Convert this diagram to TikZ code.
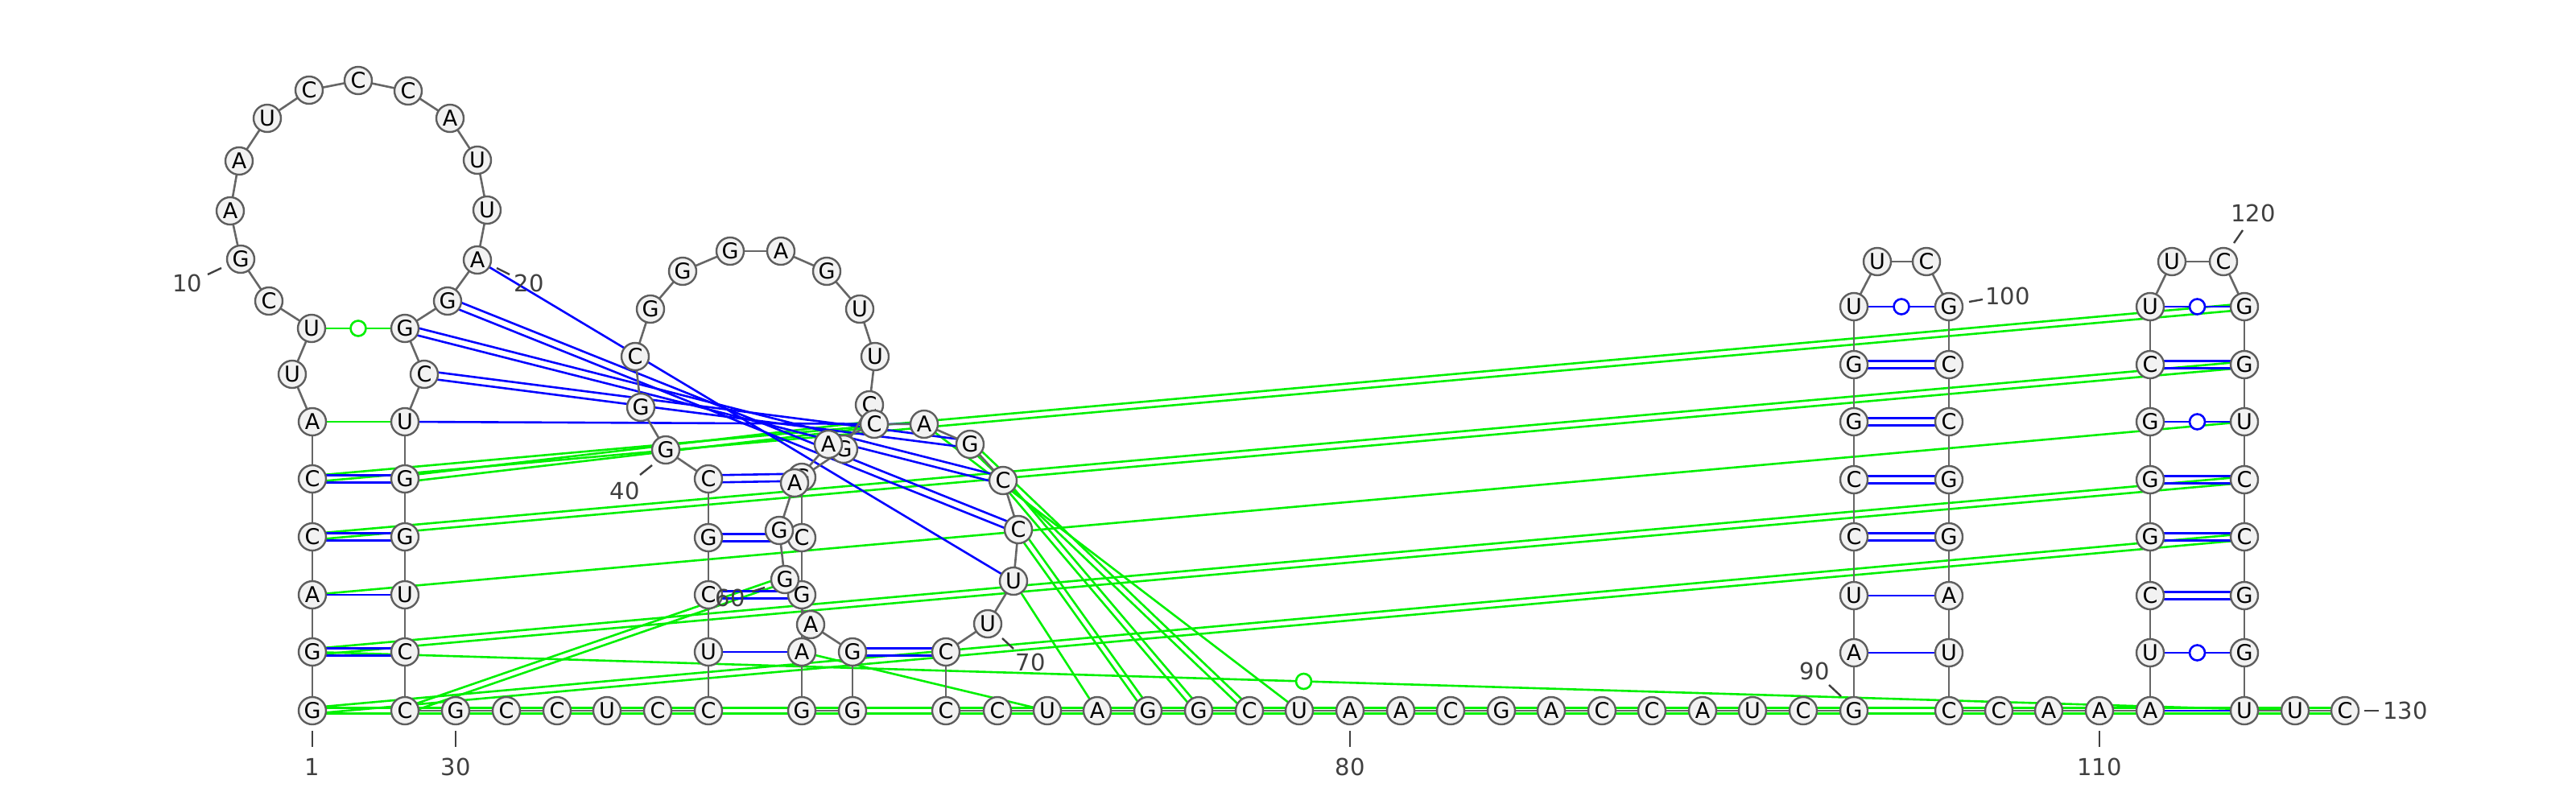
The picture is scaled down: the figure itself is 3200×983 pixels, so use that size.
\documentclass[tikz,border=0pt]{standalone}
\usepackage{fontspec}
\setmainfont{DejaVu Sans}
\usetikzlibrary{calc}
\pgfdeclarelayer{bg}
\pgfsetlayers{bg,main}
\definecolor{bb}{HTML}{666666}
\definecolor{ndraw}{HTML}{5E5E5E}
\definecolor{nfill}{HTML}{F2F2F2}
\definecolor{pblue}{HTML}{0000FF}
\definecolor{pgreen}{HTML}{00F000}
\definecolor{lbl}{HTML}{404040}
\newcommand\PairD[4]{%
  \draw[#3] ($(#1.center)!#4!90:(#2.center)$) -- ($(#2.center)!#4!-90:(#1.center)$);
  \draw[#3] ($(#1.center)!#4!-90:(#2.center)$) -- ($(#2.center)!#4!90:(#1.center)$);}
\newcommand\PairS[3]{\draw[#3] (#1.center) -- (#2.center);}
\begin{document}
\begin{tikzpicture}[x=1pt,y=-1pt,
  nt/.style={circle,draw=ndraw,fill=nfill,line width=2.4pt,minimum size=34pt,inner sep=0pt,font=\fontsize{27}{27}\selectfont},
  lab/.style={text=lbl,font=\fontsize{29}{29}\selectfont,inner sep=0pt},
  tk/.style={draw=lbl,line width=2.4pt},
  bbl/.style={draw=bb,line width=2.6pt},
  bl/.style={draw=pblue,line width=2.6pt},
  gl/.style={draw=pgreen,line width=2.6pt},
  gum/.style={circle,fill=white,line width=2.6pt,minimum size=19pt,inner sep=0pt}]
\useasboundingbox (0,0) rectangle (3200,983);
% nucleotides
\foreach \i/\x/\y/\b in {
1/388/883/G,2/388/810/G,3/388/739/A,4/388/667/C,5/388/595/C,6/388/524/A,
7/363/465/U,8/387/408/U,9/334/374/C,10/299/322/G,11/286/262/A,12/297/200/A,
13/332/147/U,14/384/112/C,15/445/100/C,16/507/113/C,17/559/147/A,18/593/199/U,
19/605/261/U,20/593/323/A,21/556/374/G,22/503/408/G,23/527/465/C,24/503/524/U,
25/503/595/G,26/503/667/G,27/503/739/U,28/503/810/C,29/503/883/C,
30/566/883/G,31/629/883/C,32/692/883/C,33/754/883/U,34/817/883/C,35/880/883/C,
36/880/810/U,37/880/739/C,38/880/668/G,39/880/595/C,40/827/559/G,41/796/506/G,
42/789/443/C,43/808/384/G,44/848/337/G,45/907/312/G,46/970/312/A,47/1027/337/G,
48/1068/384/U,49/1087/443/U,50/1080/503/C,51/1048/558/G,52/996/593/G,53/996/668/C,
54/996/739/G,55/996/810/A,56/996/883/G,57/1059/883/G,58/1059/810/G,59/1007/776/A,
60/975/720/G,61/968/659/G,62/987/600/A,63/1029/552/A,64/1086/527/C,65/1148/527/A,
66/1205/552/G,67/1246/597/C,68/1265/658/C,69/1259/722/U,70/1227/775/U,71/1175/810/C,
72/1175/883/C,73/1239/883/C,74/1301/883/U,75/1363/883/A,76/1426/883/G,77/1489/883/G,
78/1552/883/C,79/1614/883/U,80/1677/883/A,81/1740/883/A,82/1802/883/C,83/1865/883/G,
84/1927/883/A,85/1990/883/C,86/2052/883/C,87/2115/883/A,88/2177/883/U,89/2240/883/C,
90/2303/883/G,91/2303/811/A,92/2303/740/U,93/2303/667/C,94/2303/596/C,95/2303/524/G,
96/2303/453/G,97/2303/381/U,98/2332/325/U,99/2393/325/C,100/2421/381/G,101/2421/453/C,
102/2421/524/C,103/2421/596/G,104/2421/667/G,105/2421/740/A,106/2421/811/U,107/2421/883/C,
108/2483/883/C,109/2545/883/A,110/2608/883/A,111/2671/883/A,112/2671/811/U,113/2671/740/C,
114/2671/667/G,115/2671/596/G,116/2671/524/G,117/2671/453/C,118/2671/381/U,119/2698/325/U,
120/2762/325/C,121/2788/381/G,122/2788/453/G,123/2788/524/U,124/2788/596/C,125/2788/667/C,
126/2788/740/G,127/2788/811/G,128/2788/883/U,129/2851/883/U,130/2913/883/C}
{\node[nt] (n\i) at (\x,\y) {\b};}
\begin{pgfonlayer}{bg}
\fill[white] (0,0) rectangle (3200,983);
% green pairs
\PairD{n1}{n125}{gl}{3.8pt}
\PairD{n2}{n124}{gl}{3.8pt}
\PairS{n3}{n123}{gl}
\PairD{n4}{n122}{gl}{3.8pt}
\PairD{n5}{n121}{gl}{3.8pt}
\PairS{n6}{n24}{gl}
\PairS{n8}{n22}{gl}
\PairD{n25}{n64}{gl}{3.8pt}
\PairD{n29}{n60}{gl}{3.8pt}
\PairS{n55}{n74}{gl}
\PairS{n65}{n79}{gl}
\PairD{n66}{n78}{gl}{3.8pt}
\PairD{n67}{n77}{gl}{3.8pt}
\PairD{n68}{n76}{gl}{3.8pt}
\PairS{n69}{n75}{gl}
\PairS{n2}{n129}{gl}
\PairD{n1}{n130}{gl}{3.5pt}
% blue pairs
\PairD{n2}{n28}{bl}{4.5pt}
\PairS{n3}{n27}{bl}
\PairD{n4}{n26}{bl}{4.5pt}
\PairD{n5}{n25}{bl}{4.5pt}
\PairS{n20}{n69}{bl}
\PairD{n21}{n68}{bl}{4.5pt}
\PairD{n22}{n67}{bl}{4.5pt}
\PairD{n23}{n66}{bl}{4.5pt}
\PairS{n24}{n65}{bl}
\PairS{n36}{n55}{bl}
\PairD{n37}{n54}{bl}{4.5pt}
\PairD{n38}{n53}{bl}{4.5pt}
\PairD{n39}{n52}{bl}{4.5pt}
\PairD{n58}{n71}{bl}{4.5pt}
\PairS{n91}{n106}{bl}
\PairS{n92}{n105}{bl}
\PairD{n93}{n104}{bl}{4.5pt}
\PairD{n94}{n103}{bl}{4.5pt}
\PairD{n95}{n102}{bl}{4.5pt}
\PairD{n96}{n101}{bl}{4.5pt}
\PairS{n97}{n100}{bl}
\PairS{n111}{n128}{bl}
\PairS{n112}{n127}{bl}
\PairD{n113}{n126}{bl}{4.5pt}
\PairD{n114}{n125}{bl}{4.5pt}
\PairD{n115}{n124}{bl}{4.5pt}
\PairS{n116}{n123}{bl}
\PairD{n117}{n122}{bl}{4.5pt}
\PairS{n118}{n121}{bl}
% backbone
\foreach \i in {1,...,129}{\pgfmathtruncatemacro\j{\i+1}\draw[bbl] (n\i.center) -- (n\j.center);}
\end{pgfonlayer}
% G-U markers
\node[gum,draw=pgreen] (m8) at ($(n8.center)!0.5!(n22.center)$) {};
\node[gum,draw=pgreen] (m2) at ($(n2.center)!0.5!(n129.center)$) {};
\node[gum,draw=pblue] (m97) at ($(n97.center)!0.5!(n100.center)$) {};
\node[gum,draw=pblue] (m112) at ($(n112.center)!0.5!(n127.center)$) {};
\node[gum,draw=pblue] (m116) at ($(n116.center)!0.5!(n123.center)$) {};
\node[gum,draw=pblue] (m118) at ($(n118.center)!0.5!(n121.center)$) {};
% numbering
\node[lab] (l1) at (388,953) {1};
\draw[tk] (388,908) -- (388,928);
\node[lab] (l10) at (233,352) {10};
\draw[tk] (258,341) -- (275,333);
\node[lab] (l20) at (657,352) {20};
\draw[tk] (617,333) -- (633,341);
\node[lab] (l30) at (566,953) {30};
\draw[tk] (566,908) -- (566,928);
\node[lab] (l40) at (776,610) {40};
\draw[tk] (795,590) -- (810,578);
\node[lab] (l60) at (907,743) {60};
\draw[tk] (934,735) -- (950,730);
\node[lab] (l70) at (1280,823) {70};
\draw[tk] (1245,793) -- (1259,806);
\node[lab] (l80) at (1677,953) {80};
\draw[tk] (1677,908) -- (1677,928);
\node[lab] (l90) at (2254,834) {90};
\draw[tk] (2272,851) -- (2287,865);
\node[lab] (l100) at (2494,368) {100};
\draw[tk] (2446,375) -- (2463,372);
\node[lab] (l110) at (2608,953) {110};
\draw[tk] (2608,908) -- (2608,928);
\node[lab] (l120) at (2799,265) {120};
\draw[tk] (2775,302) -- (2786,286);
\node[lab] (l130) at (2988,883) {130};
\draw[tk] (2937,883) -- (2955,883);
\end{tikzpicture}
\end{document}
